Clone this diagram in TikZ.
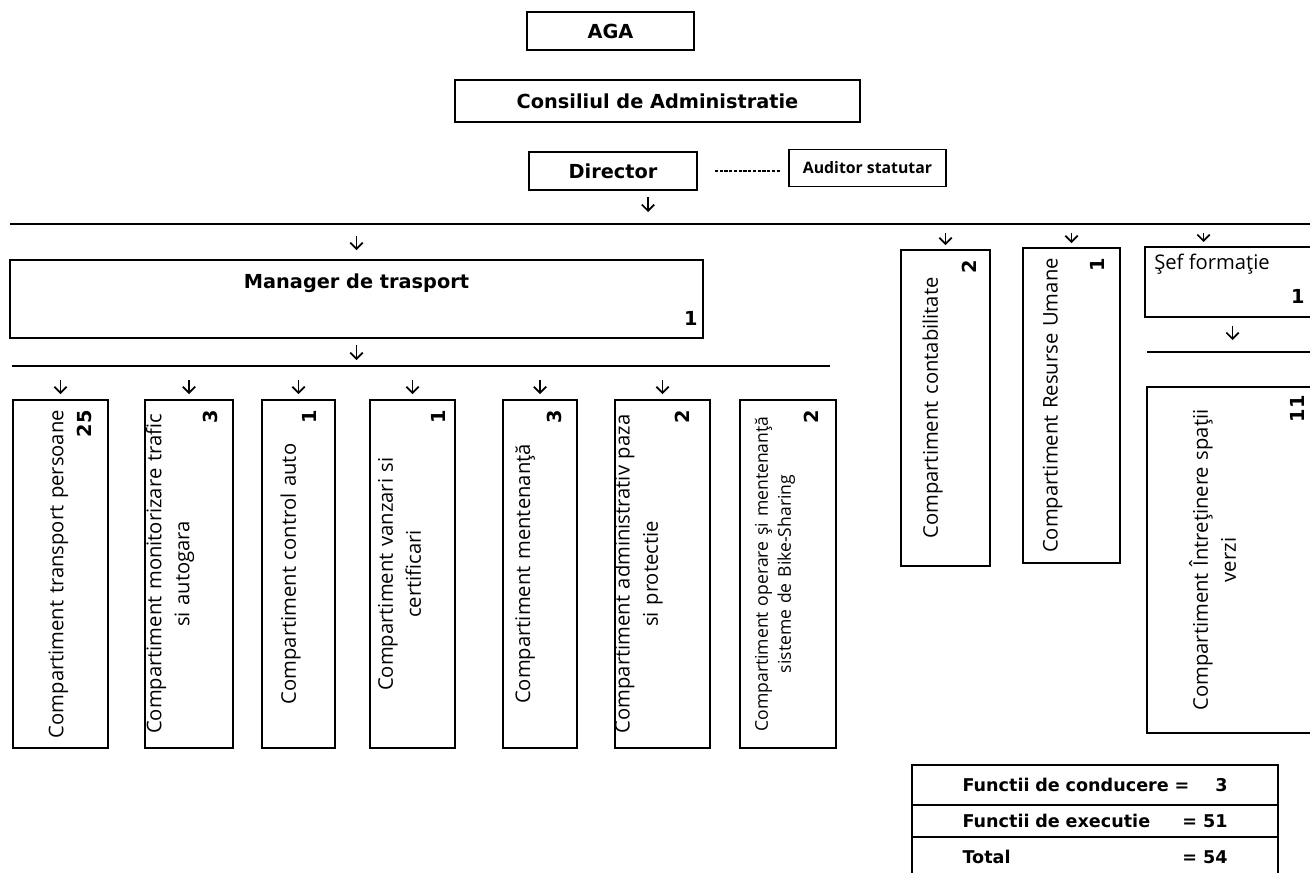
\documentclass[tikz,border=0pt]{standalone}
\usepackage{fontspec}
\setmainfont{Open Sans}
\newfontfamily\verdfont{DejaVu Sans}
\usepackage{tikz}
\usetikzlibrary{arrows.meta,calc,positioning}
\tikzstyle{box}     =[draw, line width=1pt, inner sep=0pt,
                      outer sep=0pt]
\tikzstyle{headtext}=[inner sep=0pt,
                      font=\verdfont\bfseries\fontsize{11}{13}\selectfont]
\tikzstyle{dtext}   =[rotate=90, align=center, inner sep=0pt,
                      font=\fontsize{11.5}{16}\selectfont]
\tikzstyle{dnum}    =[rotate=90, anchor=south east, inner sep=0pt,
                      font=\verdfont\bfseries\fontsize{11}{13}\selectfont]
\tikzstyle{hnum}    =[anchor=south east, inner sep=0pt,
                      font=\verdfont\bfseries\fontsize{11}{13}\selectfont]
\tikzstyle{bus}     =[line width=1.3pt]
\tikzstyle{arr}     =[-{Straight Barb[length=3.5pt,width=7pt]}, line width=1pt,
                      shorten <=0.28cm, shorten >=0.12cm]
\tikzstyle{rowbox}  =[box, text width=5.3cm, inner xsep=1.01cm, inner ysep=0pt,
                      font=\verdfont\bfseries\fontsize{10}{12}\selectfont]

\begin{document}
\begin{tikzpicture}[x=0.02cm, y=-0.02cm]
    \useasboundingbox (0,0) rectangle (1310,872);
    \clip (0,0) rectangle (1310,872);
    % conducere
    \node[box, headtext, minimum width=3.34cm, minimum height=0.76cm] (aga) at (610.5,31) {AGA};
    \node[box, headtext, minimum width=8.1cm, minimum height=0.84cm] (cda) at (657.5,101) {Consiliul de Administratie};
    \node[box, headtext, minimum width=3.36cm, minimum height=0.76cm] (dir) at (613,171) {Director};
    \node[box, minimum width=3.14cm, minimum height=0.74cm,
          font=\bfseries\fontsize{9}{11}\selectfont] (aud) at (867.5,168) {Auditor statutar};
    \draw[line width=0.9pt, dash pattern=on 1.8pt off 0.9pt, shorten <=0.36cm, shorten >=0.18cm]
        (dir.east) -- (dir.east -| aud.west);

    % bara director
    \coordinate (tbL) at (10,224);
    \coordinate (tbR) at (1320,224);
    \coordinate (dirout) at ($(dir.south)+(35,0)$);
    \draw[bus] (tbL) -- (tbR);
    \draw[arr, shorten <=0.14cm, shorten >=0.24cm] (dirout) -- (dirout |- tbL);

    % manager
    \node[box, minimum width=13.86cm, minimum height=1.56cm] (man) at (356.5,299) {};
    \node[headtext, anchor=north] (mantxt) at ($(man.north)+(0,13)$) {Manager de trasport};
    \node[hnum] (mannum) at ($(man.south east)+(-5,-12)$) {1};
    \draw[arr, shorten <=0.24cm, shorten >=0.2cm] (man.north |- tbL) -- (man.north);

    \coordinate (b2L) at (12,366);
    \coordinate (b2R) at (830,366);
    \draw[bus] (b2L) -- (b2R);
    \draw[arr, shorten <=0.14cm, shorten >=0.12cm] (man.south) -- (man.south |- b2L);

    % compartimente transport
    \node[box, minimum width=1.9cm, minimum height=6.96cm] (c1) at (60.5,574) {};
    \node[dtext, text width=6.8cm] (c1txt) at ($(c1)+(-2,0)$) {Compartiment transport persoane};
    \node[dnum] (c1num) at ($(c1.north east)+(-16,10)$) {25};
    \draw[arr] (c1.north |- b2L) -- (c1.north);

    \node[box, minimum width=1.76cm, minimum height=6.96cm] (c2) at (189,574) {};
    \node[dtext, text width=6.8cm] (c2txt) at ($(c2)+(-19,0)$) {Compartiment monitorizare trafic\\ si autogara};
    \node[dnum] (c2num) at ($(c2.north east)+(-15,10)$) {3};
    \draw[arr] (c2.north |- b2L) -- (c2.north);

    \node[box, minimum width=1.46cm, minimum height=6.96cm] (c3) at (298.5,574) {};
    \node[dtext, text width=6.8cm] (c3txt) at ($(c3)+(-8,0)$) {Compartiment control auto};
    \node[dnum] (c3num) at ($(c3.north east)+(-18,10)$) {1};
    \draw[arr] (c3.north |- b2L) -- (c3.north);

    \node[box, minimum width=1.7cm, minimum height=6.96cm] (c4) at (412.5,574) {};
    \node[dtext, text width=6.8cm] (c4txt) at ($(c4)+(-13,0)$) {Compartiment vanzari si\\ certificari};
    \node[dnum] (c4num) at ($(c4.north east)+(-9,10)$) {1};
    \draw[arr] (c4.north |- b2L) -- (c4.north);

    \node[box, minimum width=1.48cm, minimum height=6.96cm] (c5) at (540,574) {};
    \node[dtext, text width=6.8cm] (c5txt) at ($(c5)+(-15,0)$) {Compartiment mentenanţă};
    \node[dnum] (c5num) at ($(c5.north east)+(-15,10)$) {3};
    \draw[arr] (c5.north |- b2L) -- (c5.north);

    \node[box, minimum width=1.9cm, minimum height=6.96cm] (c6) at (662.5,574) {};
    \node[dtext, text width=6.8cm] (c6txt) at ($(c6)+(-24,0)$) {Compartiment administrativ paza\\ si protectie};
    \node[dnum] (c6num) at ($(c6.north east)+(-20,10)$) {2};
    \draw[arr] (c6.north |- b2L) -- (c6.north);

    \node[box, minimum width=1.92cm, minimum height=6.96cm] (c7) at (788,574) {};
    \node[dtext, text width=6.8cm, font=\fontsize{10}{13}\selectfont] (c7txt) at ($(c7)+(-13,0)$)
        {Compartiment operare şi mentenanţă\\ sisteme de Bike-Sharing};
    \node[dnum] (c7num) at ($(c7.north east)+(-17,10)$) {2};

    % compartimente director
    \node[box, minimum width=1.78cm, minimum height=6.32cm] (ct) at (945.5,408) {};
    \node[dtext, text width=6.2cm] (cttxt) at ($(ct)+(-13,0)$) {Compartiment contabilitate};
    \node[dnum] (ctnum) at ($(ct.north east)+(-13,10)$) {2};
    \draw[arr, shorten <=0.18cm, shorten >=0.1cm] (ct.north |- tbL) -- (ct.north);

    \node[box, minimum width=1.94cm, minimum height=6.3cm] (ru) at (1071.5,405.5) {};
    \node[dtext, text width=6.2cm] (rutxt) at ($(ru)+(-19,0)$) {Compartiment Resurse Umane};
    \node[dnum] (runum) at ($(ru.north east)+(-15,10)$) {1};
    \draw[arr, shorten <=0.18cm, shorten >=0.1cm] (ru.north |- tbL) -- (ru.north);

    % formatie spatii verzi
    \node[box, minimum width=3.5cm, minimum height=1.4cm] (sf) at (1232.5,282) {};
    \node[anchor=north, inner sep=0pt, font=\fontsize{11.5}{14}\selectfont] (sftxt) at (1212,254) {Şef formaţie};
    \node[hnum] (sfnum) at ($(sf.south east)+(-15,-13)$) {1};
    \coordinate (sfin) at ($(sf.north)+(-29,0)$);
    \draw[arr, shorten <=0.18cm, shorten >=0.1cm] (sfin |- tbL) -- (sfin);

    \coordinate (b3L) at (1147,352);
    \coordinate (b3R) at (1320,352);
    \draw[bus] (b3L) -- (b3R);
    \draw[arr, shorten <=0.18cm, shorten >=0.24cm] (sf.south) -- (sf.south |- b3L);

    \node[box, minimum width=3.46cm, minimum height=6.92cm] (iv) at (1233.5,560) {};
    \node[dtext, text width=6.7cm] (ivtxt) at ($(iv)+(-21,0)$) {Compartiment Întreţinere spaţii\\ verzi};
    \node[dnum] (ivnum) at ($(iv.north east)+(-15,8)$) {11};

    % total functii
    \node[rowbox, minimum height=0.8cm] (fc) at (1095,785) {Functii de conducere =\hfill 3};
    \node[rowbox, minimum height=0.64cm, below=0pt of fc] (fe) {Functii de executie\hfill= 51};
    \node[rowbox, minimum height=0.8cm, below=0pt of fe] (tot) {Total\hfill= 54};
\end{tikzpicture}
\end{document}
